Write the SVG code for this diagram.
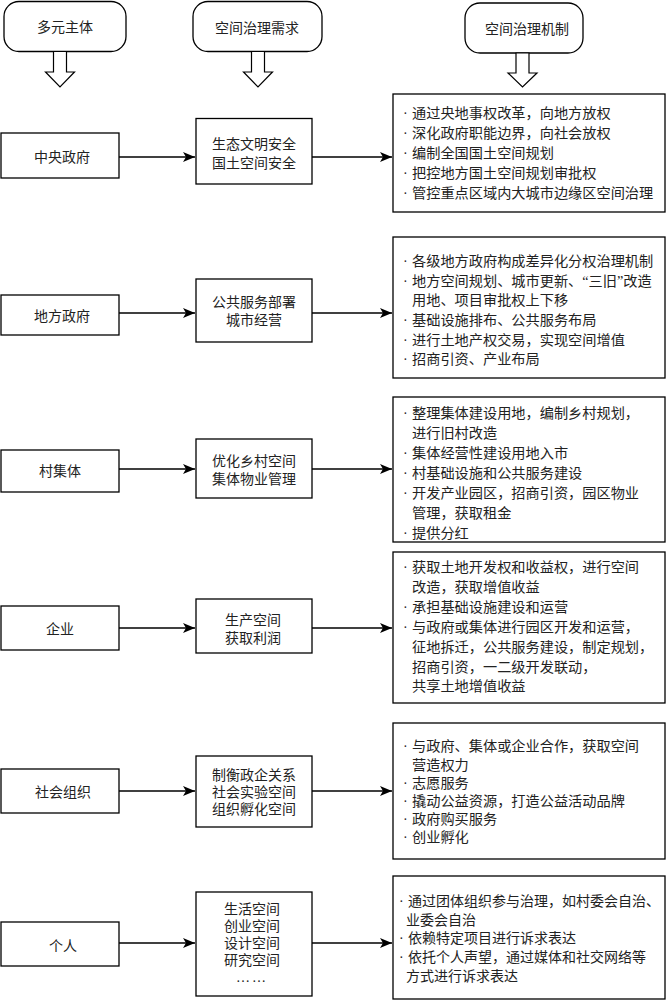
<svg xmlns="http://www.w3.org/2000/svg" width="666" height="1000" viewBox="0 0 666 1000">
<style>
.box{fill:#fff;stroke:#000;stroke-width:1.3}
.hollow{fill:#fff;stroke:#000;stroke-width:1.2;stroke-linejoin:miter}
.t{font-family:"Liberation Serif","Noto Sans CJK SC",serif;font-size:14px;fill:#222;dominant-baseline:central}
.c{text-anchor:middle}
.m{font-size:14.2px}
.conn{stroke:#000;stroke-width:1.3;fill:none}
</style>
<defs>
<marker id="ah" markerUnits="userSpaceOnUse" markerWidth="13" markerHeight="11" refX="12" refY="5" orient="auto" viewBox="0 0 13 11">
<path d="M0,0 L12,5 L0,10 L3,5 z" fill="#000"/>
</marker>
</defs>
<rect width="666" height="1000" fill="#fff"/>

<g id="header-actors">
<rect class="box" x="4" y="1.5" width="122" height="50" rx="15"/>
<text class="t c" x="65" y="27">多元主体</text>
</g>
<g id="header-needs">
<rect class="box" x="193" y="1.5" width="129" height="50" rx="15"/>
<text class="t c" x="257" y="28">空间治理需求</text>
</g>
<g id="header-mechanisms">
<rect class="box" x="465" y="3" width="118" height="50" rx="15"/>
<text class="t c" x="527" y="29">空间治理机制</text>
</g>

<g id="down-arrows">
<polygon class="hollow" points="53.5,51.5 66.5,51.5 66.5,72 74.5,72 60,87 45.5,72 53.5,72"/>
<polygon class="hollow" points="251.5,51.5 264.5,51.5 264.5,72 272.5,72 258,87 243.5,72 251.5,72"/>
<polygon class="hollow" points="516,53 529,53 529,73 537,73 522.5,87 508,73 516,73"/>
</g>

<g id="connectors">
<line class="conn" x1="119" y1="157" x2="195" y2="157" marker-end="url(#ah)"/>
<line class="conn" x1="312" y1="157" x2="392" y2="157" marker-end="url(#ah)"/>
<line class="conn" x1="119" y1="313" x2="195" y2="313" marker-end="url(#ah)"/>
<line class="conn" x1="312" y1="313" x2="392" y2="313" marker-end="url(#ah)"/>
<line class="conn" x1="119" y1="469" x2="195" y2="469" marker-end="url(#ah)"/>
<line class="conn" x1="312" y1="469" x2="392" y2="469" marker-end="url(#ah)"/>
<line class="conn" x1="119" y1="628" x2="195" y2="628" marker-end="url(#ah)"/>
<line class="conn" x1="312" y1="628" x2="392" y2="628" marker-end="url(#ah)"/>
<line class="conn" x1="119" y1="791" x2="195" y2="791" marker-end="url(#ah)"/>
<line class="conn" x1="312" y1="791" x2="392" y2="791" marker-end="url(#ah)"/>
<line class="conn" x1="119" y1="943" x2="195" y2="943" marker-end="url(#ah)"/>
<line class="conn" x1="312" y1="943" x2="392" y2="943" marker-end="url(#ah)"/>
</g>

<!-- Row 1 -->
<g id="actor-central">
<rect class="box" x="1" y="133" width="118" height="45"/>
<text class="t c" x="62" y="157">中央政府</text>
</g>
<g id="need-central">
<rect class="box" x="196" y="118.5" width="116" height="65.5"/>
<text class="t c" x="254" y="144">生态文明安全</text>
<text class="t c" x="254" y="163">国土空间安全</text>
</g>
<g id="mech-central">
<rect class="box" x="393" y="94" width="272" height="118"/>
<text class="t m" y="113"><tspan x="403">·</tspan><tspan x="412">通过央地事权改革，向地方放权</tspan></text>
<text class="t m" y="133"><tspan x="403">·</tspan><tspan x="412">深化政府职能边界，向社会放权</tspan></text>
<text class="t m" y="153"><tspan x="403">·</tspan><tspan x="412">编制全国国土空间规划</tspan></text>
<text class="t m" y="173"><tspan x="403">·</tspan><tspan x="412">把控地方国土空间规划审批权</tspan></text>
<text class="t m" y="193"><tspan x="403">·</tspan><tspan x="412">管控重点区域内大城市边缘区空间治理</tspan></text>
</g>

<!-- Row 2 -->
<g id="actor-local">
<rect class="box" x="1" y="295" width="118" height="40"/>
<text class="t c" x="62" y="316">地方政府</text>
</g>
<g id="need-local">
<rect class="box" x="196" y="279" width="116" height="63"/>
<text class="t c" x="254" y="302">公共服务部署</text>
<text class="t c" x="254" y="320">城市经营</text>
</g>
<g id="mech-local">
<rect class="box" x="393" y="237" width="272" height="141"/>
<text class="t m" y="261"><tspan x="403">·</tspan><tspan x="412">各级地方政府构成差异化分权治理机制</tspan></text>
<text class="t m" y="281"><tspan x="403">·</tspan><tspan x="412">地方空间规划、城市更新、“三旧”改造</tspan></text>
<text class="t m" x="412" y="300">用地、项目审批权上下移</text>
<text class="t m" y="320"><tspan x="403">·</tspan><tspan x="412">基础设施排布、公共服务布局</tspan></text>
<text class="t m" y="340"><tspan x="403">·</tspan><tspan x="412">进行土地产权交易，实现空间增值</tspan></text>
<text class="t m" y="359"><tspan x="403">·</tspan><tspan x="412">招商引资、产业布局</tspan></text>
</g>

<!-- Row 3 -->
<g id="actor-village">
<rect class="box" x="1" y="450" width="118" height="42"/>
<text class="t c" x="60" y="471">村集体</text>
</g>
<g id="need-village">
<rect class="box" x="196" y="439" width="116" height="59"/>
<text class="t c" x="254" y="461">优化乡村空间</text>
<text class="t c" x="254" y="479">集体物业管理</text>
</g>
<g id="mech-village">
<rect class="box" x="393" y="397" width="272" height="145"/>
<text class="t m" y="413"><tspan x="403">·</tspan><tspan x="412">整理集体建设用地，编制乡村规划，</tspan></text>
<text class="t m" x="412" y="433">进行旧村改造</text>
<text class="t m" y="453"><tspan x="403">·</tspan><tspan x="412">集体经营性建设用地入市</tspan></text>
<text class="t m" y="473"><tspan x="403">·</tspan><tspan x="412">村基础设施和公共服务建设</tspan></text>
<text class="t m" y="493"><tspan x="403">·</tspan><tspan x="412">开发产业园区，招商引资，园区物业</tspan></text>
<text class="t m" x="412" y="513">管理，获取租金</text>
<text class="t m" y="533"><tspan x="403">·</tspan><tspan x="412">提供分红</tspan></text>
</g>

<!-- Row 4 -->
<g id="actor-enterprise">
<rect class="box" x="1" y="606" width="118" height="44"/>
<text class="t c" x="60" y="629">企业</text>
</g>
<g id="need-enterprise">
<rect class="box" x="196" y="599" width="116" height="54"/>
<text class="t c" x="253" y="620">生产空间</text>
<text class="t c" x="253" y="638">获取利润</text>
</g>
<g id="mech-enterprise">
<rect class="box" x="393" y="552" width="272" height="151"/>
<text class="t m" y="567"><tspan x="403">·</tspan><tspan x="412">获取土地开发权和收益权，进行空间</tspan></text>
<text class="t m" x="412" y="587">改造，获取增值收益</text>
<text class="t m" y="607"><tspan x="403">·</tspan><tspan x="412">承担基础设施建设和运营</tspan></text>
<text class="t m" y="627"><tspan x="403">·</tspan><tspan x="412">与政府或集体进行园区开发和运营，</tspan></text>
<text class="t m" x="412" y="647">征地拆迁，公共服务建设，制定规划，</text>
<text class="t m" x="412" y="667">招商引资，一二级开发联动，</text>
<text class="t m" x="412" y="686">共享土地增值收益</text>
</g>

<!-- Row 5 -->
<g id="actor-social">
<rect class="box" x="1" y="769" width="118" height="44"/>
<text class="t c" x="63" y="792">社会组织</text>
</g>
<g id="need-social">
<rect class="box" x="196" y="756" width="116" height="71"/>
<text class="t c" x="254" y="775">制衡政企关系</text>
<text class="t c" x="254" y="792">社会实验空间</text>
<text class="t c" x="254" y="809">组织孵化空间</text>
</g>
<g id="mech-social">
<rect class="box" x="393" y="723" width="272" height="136"/>
<text class="t m" y="746"><tspan x="403">·</tspan><tspan x="412">与政府、集体或企业合作，获取空间</tspan></text>
<text class="t m" x="412" y="765">营造权力</text>
<text class="t m" y="783"><tspan x="403">·</tspan><tspan x="412">志愿服务</tspan></text>
<text class="t m" y="801"><tspan x="403">·</tspan><tspan x="412">撬动公益资源，打造公益活动品牌</tspan></text>
<text class="t m" y="819"><tspan x="403">·</tspan><tspan x="412">政府购买服务</tspan></text>
<text class="t m" y="837"><tspan x="403">·</tspan><tspan x="412">创业孵化</tspan></text>
</g>

<!-- Row 6 -->
<g id="actor-individual">
<rect class="box" x="1" y="922" width="118" height="44"/>
<text class="t c" x="63" y="946">个人</text>
</g>
<g id="need-individual">
<rect class="box" x="196" y="892" width="116" height="104"/>
<text class="t c" x="252" y="909">生活空间</text>
<text class="t c" x="252" y="926">创业空间</text>
<text class="t c" x="252" y="943">设计空间</text>
<text class="t c" x="252" y="960">研究空间</text>
<text class="t c" x="252" y="977" letter-spacing="2">……</text>
</g>
<g id="mech-individual">
<rect class="box" x="393" y="876" width="272" height="123"/>
<text class="t" y="901"><tspan x="399">·</tspan><tspan x="408">通过团体组织参与治理，如村委会自治、</tspan></text>
<text class="t" x="406" y="920">业委会自治</text>
<text class="t" y="938"><tspan x="399">·</tspan><tspan x="408">依赖特定项目进行诉求表达</tspan></text>
<text class="t" y="957"><tspan x="399">·</tspan><tspan x="408">依托个人声望，通过媒体和社交网络等</tspan></text>
<text class="t" x="406" y="976">方式进行诉求表达</text>
</g>
</svg>
